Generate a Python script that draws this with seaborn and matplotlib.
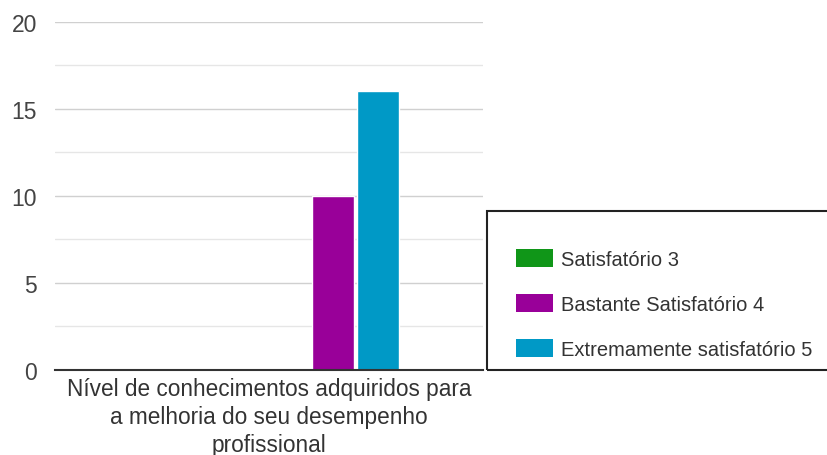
import matplotlib
matplotlib.use("Agg")
import matplotlib.pyplot as plt
from matplotlib.patches import Rectangle, Patch
from matplotlib.font_manager import FontProperties
import seaborn as sns
import pandas as pd

# ---- data ----
category = ["Nível de conhecimentos adquiridos para\na melhoria do seu desempenho\nprofissional"]
series = ["Satisfatório 3", "Bastante Satisfatório 4", "Extremamente satisfatório 5"]
values = [0, 10, 16]
colors = ["#109618", "#990099", "#0099c6"]
y_ticks = [0, 5, 10, 15, 20]
y_minor = [2.5, 7.5, 12.5, 17.5]

df = pd.DataFrame({"categoria": category * len(series), "serie": series, "valor": values})

sns.set_theme(style="white")
plt.rcParams["font.family"] = ["Liberation Sans", "DejaVu Sans"]

W, H = 828, 456
fig = plt.figure(figsize=(W / 100, H / 100), dpi=100)
fig.patch.set_facecolor("white")
ax = fig.add_axes([55 / W, 1 - 370.7 / H, (483 - 55) / W, (370.7 - 22.7) / H])

sns.barplot(data=df, x="categoria", y="valor", hue="serie", hue_order=series,
            palette=colors, width=0.8, gap=0.06, saturation=1, legend=False,
            errorbar=None, ax=ax)

ax.set_xlim(-1.646, 0.890)
mid = sum(ax.get_xlim()) / 2
ax.set_xticks([mid])
ax.set_xticklabels(category, fontsize=16.3, color="#333333", linespacing=1.3)
ax.set_xlabel("")
ax.set_ylabel("")

ax.set_ylim(0, 20)
ax.set_yticks(y_ticks)
ax.set_yticks(y_minor, minor=True)
ax.set_yticklabels([str(t) for t in y_ticks], fontsize=16.5, color="#444444")
ax.set_axisbelow(True)
ax.grid(axis="y", which="major", color="#d0d0d0", lw=1.0)
ax.grid(axis="y", which="minor", color="#e6e6e6", lw=1.0)
ax.grid(axis="x", visible=False)
ax.tick_params(axis="y", which="both", length=0, pad=13)
ax.tick_params(axis="x", length=0, pad=5)
for s in ["top", "right", "left"]:
    ax.spines[s].set_visible(False)
ax.spines["bottom"].set_color("#333333")
ax.spines["bottom"].set_linewidth(1.5)

# legend box
fig.add_artist(Rectangle((487 / W, 1 - 371 / H), 400 / W, 159 / H,
                         transform=fig.transFigure, fill=False,
                         edgecolor="#222222", lw=1.5))
handles = [Patch(facecolor=c, edgecolor="none") for c in colors]
fp = FontProperties(family=["Liberation Sans", "DejaVu Sans"], size=14.5)
leg = fig.legend(handles, series, loc="upper left",
                 bbox_to_anchor=(516 / W, 1 - 250 / H), frameon=False, prop=fp,
                 borderpad=0, borderaxespad=0, handlelength=1.85, handleheight=1.0,
                 handletextpad=0.4, labelspacing=1.24, labelcolor="#333333")

fig.savefig("out.png", dpi=100, facecolor="white")
